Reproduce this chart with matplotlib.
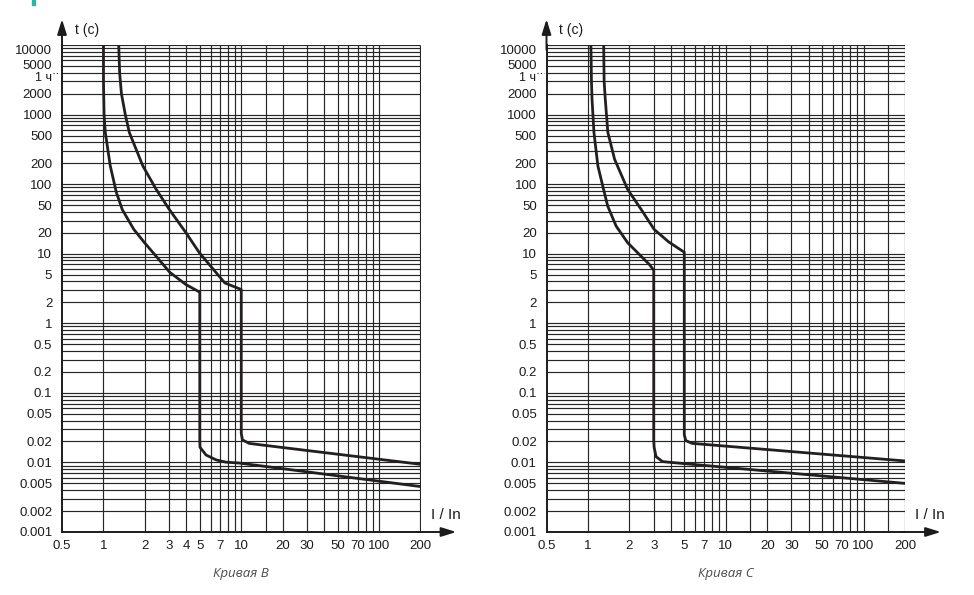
import matplotlib
matplotlib.use("Agg")
import matplotlib.pyplot as plt
from matplotlib.patches import Rectangle
from matplotlib.transforms import ScaledTranslation

# ---- кривая B : (I/In, t) ----
b_low_i = [1.0, 1.0, 1.01, 1.03, 1.12, 1.24, 1.37, 1.66, 1.98, 2.41, 3.03, 3.97, 5.0,
           5.0, 5.02, 5.55, 6.55, 7.7, 9.65, 200]
b_low_t = [10000, 3000, 1000, 560, 183, 76, 43, 22.4, 14.5, 9.2, 5.4, 3.6, 2.8,
           0.021, 0.0165, 0.0128, 0.0109, 0.0101, 0.0098, 0.0045]
b_up_i = [1.29, 1.31, 1.35, 1.44, 1.54, 1.93, 2.41, 3.0, 3.97, 4.97, 6.3, 7.6, 10,
          10, 10.2, 11.4, 13.5, 200]
b_up_t = [10000, 4000, 2000, 1000, 554, 183, 84.5, 43.5, 20, 10.3, 5.9, 3.8, 3.06,
          0.0263, 0.0211, 0.0188, 0.018, 0.0094]

# ---- кривая C ----
c_low_i = [1.05, 1.06, 1.07, 1.105, 1.18, 1.28, 1.39, 1.60, 1.94, 2.43, 2.79, 3.0,
           3.0, 3.02, 3.12, 3.47, 4.0, 200]
c_low_t = [10000, 3000, 1670, 554, 183, 94, 48.5, 25, 14.4, 9.2, 7.0, 5.8,
           0.021, 0.0165, 0.0121, 0.0103, 0.0100, 0.005]
c_up_i = [1.30, 1.31, 1.335, 1.394, 1.56, 1.94, 2.43, 3.02, 3.85, 5.0,
          5.0, 5.13, 5.7, 200]
c_up_t = [10000, 3000, 1670, 554, 228, 84, 43.5, 22.4, 14.8, 10.5,
          0.025, 0.0206, 0.0188, 0.0105]

# grid / ticks
grid_i_b = [1, 2, 3, 4, 5, 6, 7, 8, 9, 10, 15, 20, 30, 40, 50, 60, 70, 80, 90, 100, 200]
grid_i_c = [1, 2, 3, 4, 5, 6, 7, 8, 9, 10, 15, 20, 30, 40, 50, 60, 70, 80, 90, 100, 150, 200]
grid_t = [m * 10.0 ** e for e in range(-3, 4) for m in range(1, 10)] + [10000]

xt_b = [0.5, 1, 2, 3, 4, 5, 7, 10, 20, 30, 50, 70, 100, 200]
xt_c = [0.5, 1, 2, 3, 5, 7, 10, 20, 30, 50, 70, 100, 200]
yt = [10000, 5000, 2000, 1000, 500, 200, 100, 50, 20, 10, 5, 2, 1,
      0.5, 0.2, 0.1, 0.05, 0.02, 0.01, 0.005, 0.002, 0.001]
hour = 3600

plt.rcParams['font.family'] = ['Liberation Sans', 'DejaVu Sans']
ink = '#1c1c1c'

fig = plt.figure(figsize=(9.74, 5.95), dpi=100)
fig.patches.append(Rectangle((32 / 974, 1 - 5 / 595), 3 / 974, 5 / 595,
                             transform=fig.transFigure, color='#2bb5a3'))


def panel(left, grid_i, xt, curves, caption):
    ax = fig.add_axes([left / 974, 63 / 595, 358.5 / 974, 487 / 595])
    ax.set_xscale('log')
    ax.set_yscale('log')
    ax.set_xlim(0.5, 200)
    ax.set_ylim(0.001, 10000)
    ax.hlines(grid_t, 0.5, 200, colors='#262626', lw=0.85, zorder=1)
    ax.vlines(grid_i, 0.001, 10000, colors='#262626', lw=0.85, zorder=1)
    for xi, yi in curves:
        ax.plot(xi, yi, color='#231f20', lw=2.0, zorder=3, solid_joinstyle='round')
    for s in ['top', 'right']:
        ax.spines[s].set_visible(False)
    for s in ['left', 'bottom']:
        ax.spines[s].set_linewidth(1.4)
        ax.spines[s].set_color(ink)
    ax.minorticks_off()
    ax.set_xticks(xt)
    ax.set_xticklabels([('%g' % v) for v in xt])
    ax.set_yticks(yt)
    ax.set_yticklabels([('%g' % v) for v in yt])
    ax.tick_params(length=0, labelsize=9.5, colors=ink)
    ax.tick_params(axis='x', pad=6)
    ax.tick_params(axis='y', pad=7)
    labs = ax.get_yticklabels()
    labs[0].set_va('top')
    labs[1].set_transform(labs[1].get_transform() +
                          ScaledTranslation(0, 1.2 / 72, fig.dpi_scale_trans))
    # метка «1 ч»
    ax.plot([-0.026, -0.008], [hour * 1.1, hour * 1.1], ls=(0, (1, 2)), lw=0.8,
            color=ink, transform=ax.get_yaxis_transform(), clip_on=False)
    ax.text(-0.028, hour * 0.92, '1 ч', transform=ax.get_yaxis_transform(),
            fontsize=9, color=ink, ha='right', va='center')
    # стрелки осей
    ax.annotate('', xy=(0, 1.053), xytext=(0, 0.99), xycoords='axes fraction',
                arrowprops=dict(arrowstyle='-|>,head_length=0.9,head_width=0.28',
                                lw=1.4, color=ink, shrinkA=0, shrinkB=0))
    ax.annotate('', xy=(1.1, 0), xytext=(0.99, 0), xycoords='axes fraction',
                arrowprops=dict(arrowstyle='-|>,head_length=0.9,head_width=0.28',
                                lw=1.4, color=ink, shrinkA=0, shrinkB=0))
    ax.text(0.036, 1.031, 't (c)', transform=ax.transAxes, fontsize=10,
            color=ink, va='center', ha='left')
    ax.text(1.028, 0.034, 'I / In', transform=ax.transAxes, fontsize=11,
            color=ink, va='center', ha='left')
    fig.text((left + 179) / 974, 1 - 574 / 595, caption, fontsize=9.5,
             family=['Open Sans', 'DejaVu Sans'], style='italic', color='#4a4a4a',
             ha='center', va='center')
    return ax


panel(62, grid_i_b, xt_b, [(b_low_i, b_low_t), (b_up_i, b_up_t)], 'Кривая В')
panel(546.5, grid_i_c, xt_c, [(c_low_i, c_low_t), (c_up_i, c_up_t)], 'Кривая С')

fig.savefig('out.png', dpi=100)
